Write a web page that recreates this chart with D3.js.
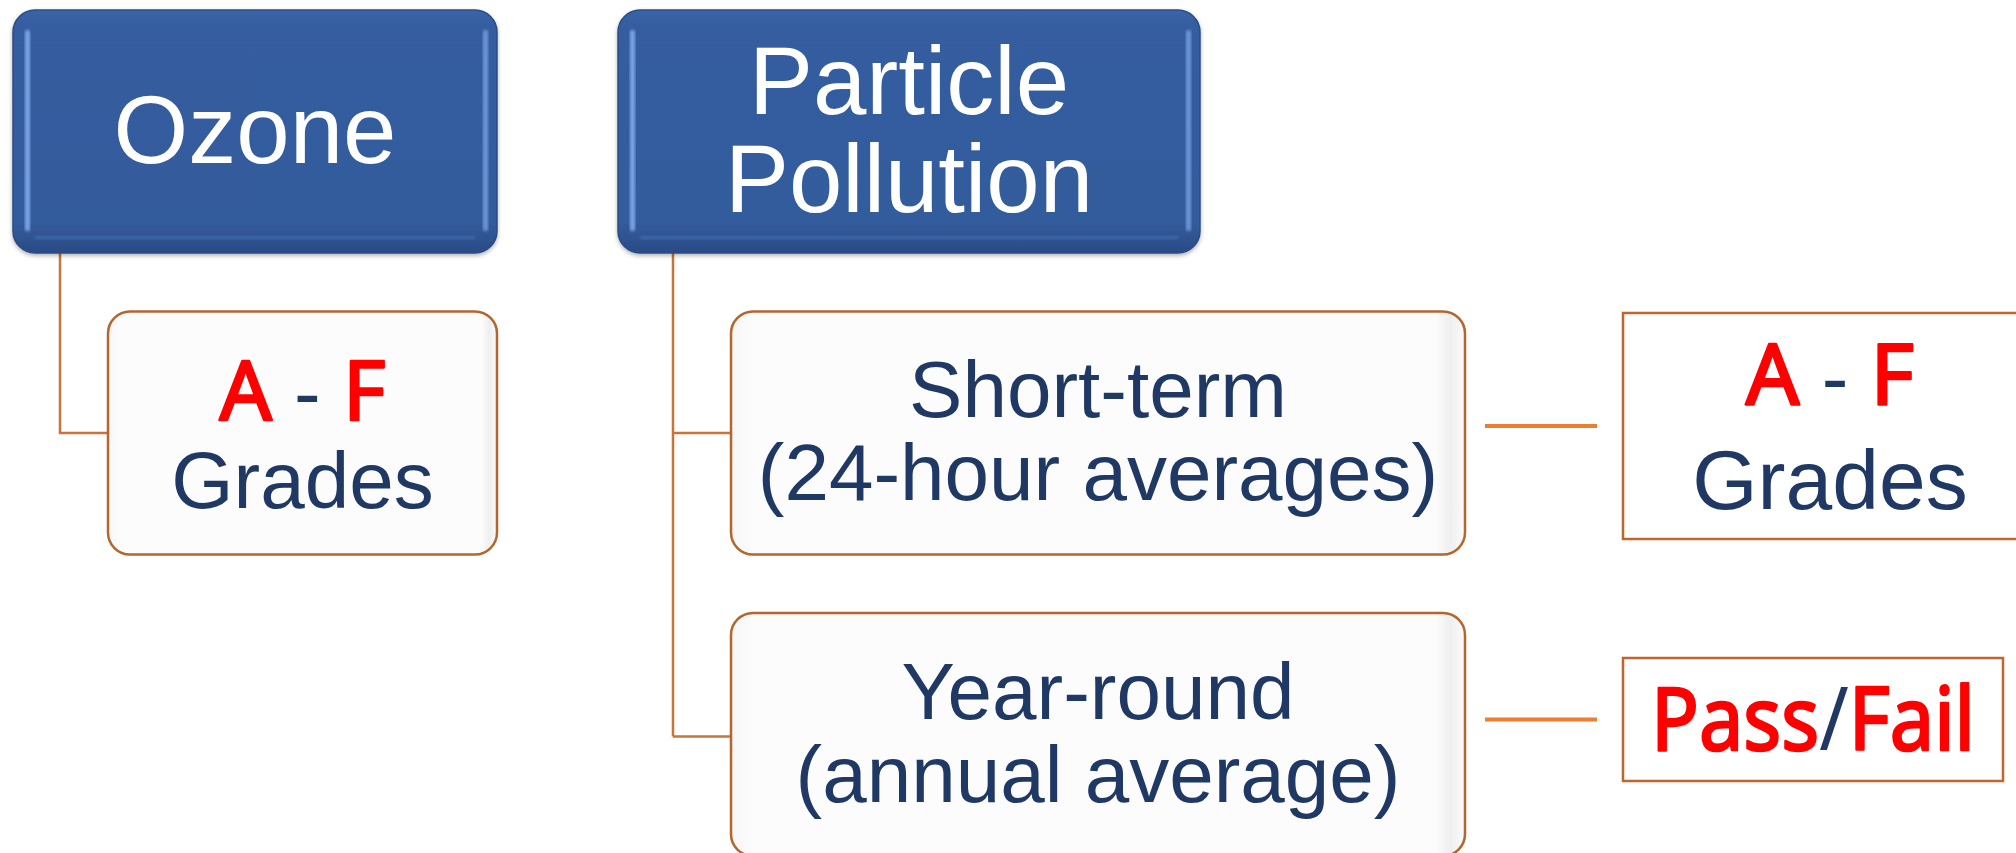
<!DOCTYPE html>
<html>
<head>
<meta charset="utf-8">
<script src="https://cdn.jsdelivr.net/npm/d3@7"></script>
<style>
    body { margin: 0; background: #fff; }
    svg { display: block; }
    .label { font-family: "Liberation Sans", Arial, sans-serif; fill: #1f3864; }
    .head { font-family: "Liberation Sans", Arial, sans-serif; fill: #fff; }
    .mark { font-family: "Comic Sans MS", "Noto Sans", sans-serif; fill: #ff0000; stroke: #ff0000;
            stroke-width: 2.5; stroke-linejoin: round; stroke-linecap: round; }
    .slash { font-family: "Comic Sans MS", "Noto Sans", sans-serif; fill: #1f3864; }
</style>
</head>
<body>
<svg id="svg"></svg>
<script>
    // labels of the diagram
    const pollutants = ['Ozone', 'Particle Pollution'];
    const headerLines = [['Ozone'], ['Particle', 'Pollution']];
    const particleMeasures = ['Short-term', 'Year-round'];
    const measureNotes = ['(24-hour averages)', '(annual average)'];
    const gradeRange = ['A', 'F'];
    const gradeWord = 'Grades';
    const passFail = ['Pass', 'Fail'];
    // what each particle measure gets
    const measureResults = ['grades', 'passfail'];

    const width = 2016, height = 853;

    // layout scales
    let rowY = d3.scaleBand().domain([0, 1, 2]).range([10, 856]).paddingInner(0.194);
    let headX = d3.scaleOrdinal().domain(pollutants).range([13, 618]);
    let headW = d3.scaleOrdinal().domain(pollutants).range([484, 582]);
    let stemX = d3.scaleOrdinal().domain(pollutants).range([60, 673]);
    let childX = d3.scaleOrdinal().domain(pollutants).range([108, 731]);
    let childW = d3.scaleOrdinal().domain(pollutants).range([389, 734]);
    let resultX = d3.scaleOrdinal().domain(measureResults).range([1623, 1623]);
    let resultW = d3.scaleOrdinal().domain(measureResults).range([414, 380]);
    let resultH = d3.scaleOrdinal().domain(measureResults).range([226, 123]);
    let resultShift = d3.scaleOrdinal().domain(measureResults).range([-7, -15]);

    let svg = d3.select('#svg').attr('width', width).attr('height', height);
    let defs = svg.append('defs');

    let hg = defs.append('linearGradient').attr('id', 'headFill')
        .attr('x1', 0).attr('y1', 0).attr('x2', 0).attr('y2', 1);
    hg.append('stop').attr('offset', '0%').attr('stop-color', '#3b65a8');
    hg.append('stop').attr('offset', '6%').attr('stop-color', '#345d9f');
    hg.append('stop').attr('offset', '88%').attr('stop-color', '#335b9c');
    hg.append('stop').attr('offset', '100%').attr('stop-color', '#2a4b84');

    let cg = defs.append('linearGradient').attr('id', 'childFill')
        .attr('x1', 0).attr('y1', 0).attr('x2', 1).attr('y2', 0);
    cg.append('stop').attr('offset', '0%').attr('stop-color', '#f6f6f6');
    cg.append('stop').attr('offset', '3%').attr('stop-color', '#fcfcfc');
    cg.append('stop').attr('offset', '96%').attr('stop-color', '#fcfcfc');
    cg.append('stop').attr('offset', '98%').attr('stop-color', '#efefef');
    cg.append('stop').attr('offset', '100%').attr('stop-color', '#fbfbfb');

    defs.append('filter').attr('id', 'soft')
        .append('feGaussianBlur').attr('stdDeviation', 1.8);
    defs.append('filter').attr('id', 'shadow')
        .attr('x', '-5%').attr('y', '-5%').attr('width', '110%').attr('height', '120%')
        .append('feDropShadow').attr('dx', 0).attr('dy', 2).attr('stdDeviation', 2)
        .attr('flood-color', '#000').attr('flood-opacity', 0.3);

    let links = svg.append('g');
    let boxes = svg.append('g');

    function lineBlock(g, cx, cy, lines, fs, lineH, cls) {
        let capH = 0.716 * fs;
        let first = cy - ((lines.length - 1) * lineH + capH) / 2 + capH - 3;
        let t = g.append('text').attr('class', cls).attr('text-anchor', 'middle')
            .style('font-size', fs + 'px');
        lines.forEach((l, i) => {
            t.append('tspan').attr('x', cx).attr('y', first + i * lineH).text(l);
        });
    }

    function drawHeader(x, y, w, h, lines) {
        let g = boxes.append('g');
        g.append('rect').attr('x', x).attr('y', y).attr('width', w).attr('height', h)
            .attr('rx', 22).attr('fill', 'url(#headFill)')
            .attr('stroke', '#2b4c86').attr('stroke-width', 1.5)
            .attr('filter', 'url(#shadow)');
        // bevel highlights
        g.append('rect').attr('x', x + 12).attr('y', y + 20).attr('width', 5).attr('height', h - 42)
            .attr('rx', 2).attr('fill', '#7aa6e8').attr('filter', 'url(#soft)');
        g.append('rect').attr('x', x + w - 14).attr('y', y + 20).attr('width', 5).attr('height', h - 42)
            .attr('rx', 2).attr('fill', '#7aa6e8').attr('opacity', 0.8).attr('filter', 'url(#soft)');
        g.append('rect').attr('x', x + 22).attr('y', y + h - 17).attr('width', w - 44).attr('height', 3)
            .attr('fill', '#4a74b8').attr('opacity', 0.7).attr('filter', 'url(#soft)');
        lineBlock(g, x + w / 2, y + h / 2, lines, 96, 98, 'head');
    }

    function drawChild(x, y, w, h) {
        let g = boxes.append('g');
        g.append('rect').attr('x', x).attr('y', y).attr('width', w).attr('height', h)
            .attr('rx', 22).attr('fill', 'url(#childFill)')
            .attr('stroke', '#b4662d').attr('stroke-width', 2.5);
        return g;
    }

    function gradeText(g, cx, cy, markSize, wordSize, gap) {
        let capM = 0.714 * markSize + 3;
        let b1 = cy - (gap - capM) / 2;
        let t = g.append('text').attr('text-anchor', 'middle').attr('x', cx).attr('y', b1);
        t.append('tspan').attr('class', 'mark').style('font-size', markSize + 'px').text(gradeRange[0]);
        t.append('tspan').attr('class', 'label').style('font-size', '80px').text(' - ');
        t.append('tspan').attr('class', 'mark').style('font-size', markSize + 'px').text(gradeRange[1]);
        g.append('text').attr('class', 'label').attr('text-anchor', 'middle')
            .attr('x', cx).attr('y', b1 + gap).style('font-size', wordSize + 'px').text(gradeWord);
    }

    function passFailText(g, cx, cy, size) {
        let capM = 0.714 * size + 3;
        // narrow the wide fallback font so the word fits like the original
        let t = g.append('text').attr('text-anchor', 'middle')
            .attr('transform', `translate(${cx},${cy + capM / 2 - 2}) scale(0.9,1)`)
            .style('font-size', size + 'px');
        t.append('tspan').attr('class', 'mark').text(passFail[0]);
        t.append('tspan').attr('class', 'slash').text('/');
        t.append('tspan').attr('class', 'mark').text(passFail[1]);
    }

    let hTop = rowY(0), hH = rowY.bandwidth();

    // headers
    pollutants.forEach((p, i) => {
        drawHeader(headX(p), hTop, headW(p), hH, headerLines[i]);
    });

    // ozone: one grade box
    let oz = pollutants[0];
    let ozY = rowY(1), ozC = ozY + rowY.bandwidth() / 2;
    links.append('path')
        .attr('d', `M${stemX(oz)},${hTop + hH} V${ozC} H${childX(oz)}`)
        .attr('fill', 'none').attr('stroke', '#c8743a').attr('stroke-width', 2.5);
    let ozBox = drawChild(childX(oz), ozY, childW(oz), rowY.bandwidth());
    gradeText(ozBox, childX(oz) + childW(oz) / 2, ozC, 82, 80, 88);

    // particle pollution: two measures, each with a result
    let pp = pollutants[1];
    let lastC = rowY(particleMeasures.length) + rowY.bandwidth() / 2;
    links.append('path')
        .attr('d', `M${stemX(pp)},${hTop + hH} V${lastC + 2}`)
        .attr('fill', 'none').attr('stroke', '#c8743a').attr('stroke-width', 2.5);

    particleMeasures.forEach((m, i) => {
        let y = rowY(i + 1), h = rowY.bandwidth(), c = y + h / 2 + (i === 1 ? 2 : 0);
        links.append('path')
            .attr('d', `M${stemX(pp)},${c} H${childX(pp)}`)
            .attr('fill', 'none').attr('stroke', '#c8743a').attr('stroke-width', 2.5);
        let g = drawChild(childX(pp), y, childW(pp), h);
        lineBlock(g, childX(pp) + childW(pp) / 2, y + h / 2, [m, measureNotes[i]], 80, 83, 'label');

        let r = measureResults[i];
        let rc = y + h / 2 + resultShift(r);
        let rx = resultX(r);
        links.append('line')
            .attr('x1', childX(pp) + childW(pp) + 20).attr('x2', rx - 26)
            .attr('y1', rc).attr('y2', rc)
            .attr('stroke', '#ed7d31').attr('stroke-width', 4);
        let rg = boxes.append('g');
        rg.append('rect').attr('x', rx).attr('y', rc - resultH(r) / 2)
            .attr('width', resultW(r)).attr('height', resultH(r))
            .attr('fill', '#fff').attr('stroke', '#c0652c').attr('stroke-width', 2.5);
        if (r === 'grades') {
            gradeText(rg, rx + 207, rc, 84, 84, 104);
        } else {
            passFailText(rg, rx + resultW(r) / 2, rc, 88);
        }
    });
</script>
</body>
</html>
